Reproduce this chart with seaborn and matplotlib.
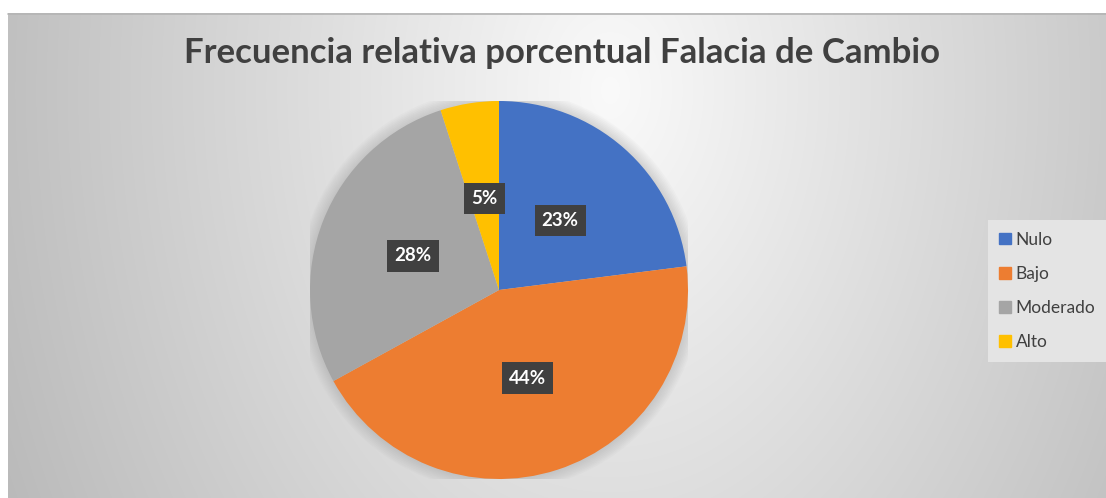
import matplotlib
matplotlib.use("Agg")
import matplotlib.pyplot as plt
import matplotlib.patches as mpatches
import numpy as np
import seaborn as sns

# -------------------------------------------------------------------------------------------------------
# data
# -------------------------------------------------------------------------------------------------------
categories = ["Nulo", "Bajo", "Moderado", "Alto"]
percent = [23, 44, 28, 5]
colours = ["#4472C4", "#ED7D31", "#A5A5A5", "#FFC000"]
title = "Frecuencia relativa porcentual Falacia de Cambio"

sns.set_style("white")
plt.rcParams["font.family"] = ["Lato", "DejaVu Sans"]
palette = sns.color_palette(colours)

W, H = 1106, 498
fig = plt.figure(figsize=(W / 100, H / 100), dpi=100)

# background gradient (chart area, pixel coords)
bg = fig.add_axes([0, 0, 1, 1])
bg.set_xlim(0, W)
bg.set_ylim(H, 0)
bg.axis("off")
xx, yy = np.meshgrid(np.arange(8, W), np.arange(13, H))
rr = np.sqrt(((xx - 610) / 560.0) ** 2 + ((yy - 90) / 800.0) ** 2)
shade = 0.98 - 0.21 * np.clip(rr, 0, 1.2)
img = np.dstack([shade, shade, shade])
bg.imshow(img, extent=(8, W, H, 13), aspect="auto", interpolation="bilinear")
bg.plot([8, W], [13.5, 13.5], color="#b4b4b4", lw=1.2)

# pie
cx, cy, r = 499, 290, 189
ax = fig.add_axes([(cx - r) / W, (H - cy - r) / H, 2 * r / W, 2 * r / H])
ax.axis("off")

# soft halo around the pie
for k in range(8):
    ax.add_patch(mpatches.Circle((0, 0), 1.0 + 0.008 * (k + 1), color="#808080",
                                 alpha=0.035, lw=0, zorder=0))

wedges, texts, autotexts = ax.pie(percent, colors=palette, startangle=90, counterclock=False,
                                  autopct=lambda p: "%d%%" % round(p), pctdistance=0.49,
                                  radius=1.0, wedgeprops=dict(linewidth=0))
ax.set_xlim(-1, 1)
ax.set_ylim(-1, 1)
ax.set_aspect("equal")
for t in autotexts:
    t.set_color("white")
    t.set_fontweight("bold")
    t.set_fontsize(13.5)
    t.set_bbox(dict(boxstyle="square,pad=0.38", fc="#404040", ec="none"))

fig.text(562 / W, 1 - 53 / H, title, ha="center", va="center", fontsize=25,
         fontweight="bold", color="#404040")

handles = [mpatches.Patch(color=c, label=l) for c, l in zip(palette, categories)]
leg = fig.legend(handles=handles, loc="center left", bbox_to_anchor=(988 / W, 1 - 291 / H),
                 frameon=True, fontsize=12.5, handlelength=0.65, handleheight=0.65,
                 handletextpad=0.3, labelspacing=1.05, borderpad=0.65, fancybox=False,
                 borderaxespad=0, labelcolor="#404040")
leg.get_frame().set_facecolor("#e4e4e4")
leg.get_frame().set_edgecolor("none")
leg.get_frame().set_alpha(1)

fig.savefig("out.png", dpi=100, facecolor="white")
